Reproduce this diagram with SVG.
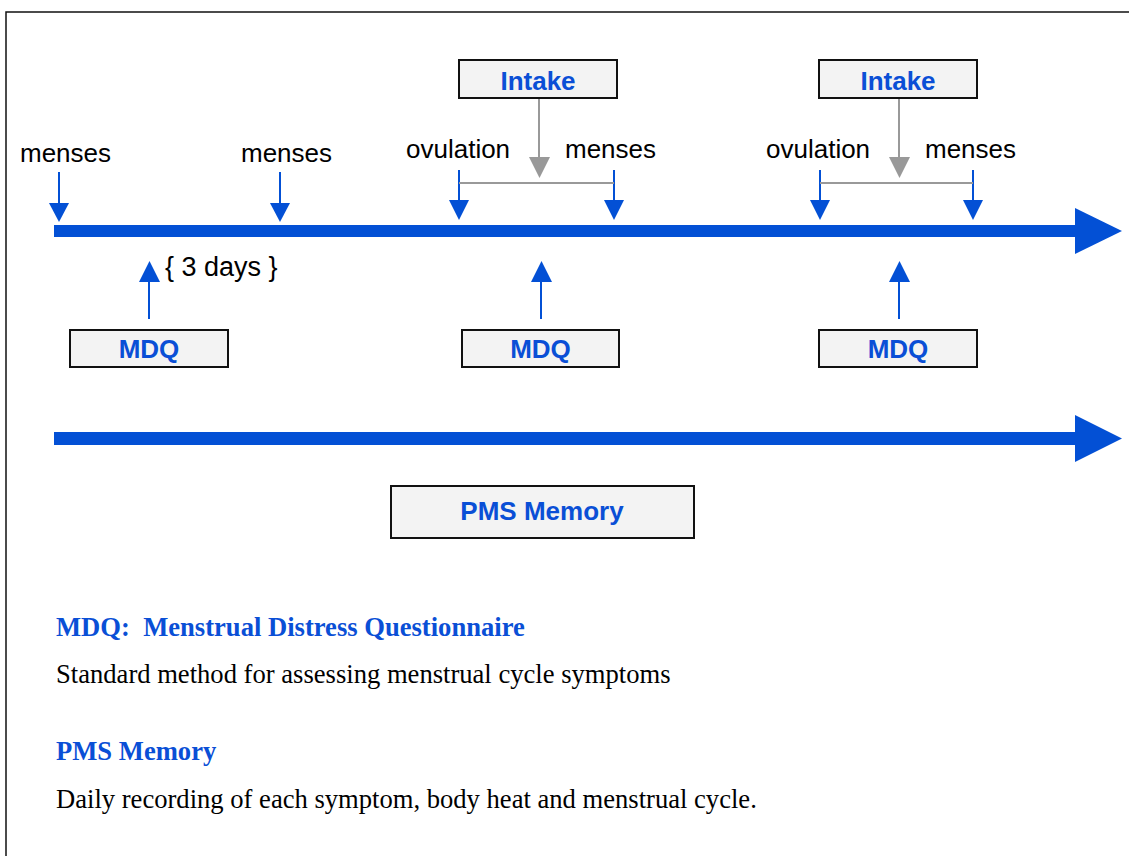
<svg xmlns="http://www.w3.org/2000/svg" width="1129" height="856" viewBox="0 0 1129 856">
<style>
.lbl{font-family:"Liberation Sans",Arial,sans-serif;font-size:26px;fill:#000}
.box{fill:#f3f3f3;stroke:#111;stroke-width:2}
.bt{font-family:"Liberation Sans",Arial,sans-serif;font-size:26px;font-weight:bold;fill:#0a4fd6;text-anchor:middle}
.blue{stroke:#0350d5;stroke-width:2}
.gray{stroke:#999;stroke-width:2}
.hd{font-family:"Liberation Serif","Times New Roman",serif;font-size:26.6px;font-weight:bold;fill:#0a4fd6}
.body{font-family:"Liberation Serif","Times New Roman",serif;font-size:26.6px;fill:#000}
</style>
<rect x="6" y="12" width="1140" height="860" fill="#fff" stroke="#111" stroke-width="1.5"/>

<g id="connectors">
  <rect x="54" y="225" width="1024" height="12" fill="#0350d5"/>
  <polygon points="1075,208 1122,231 1075,254" fill="#0350d5"/>
  <rect x="54" y="432" width="1024" height="13" fill="#0350d5"/>
  <polygon points="1075,415 1122,438.5 1075,462" fill="#0350d5"/>

  <g>
    <line class="blue" x1="59" y1="172" x2="59" y2="204"/>
    <polygon points="49,203 69,203 59,222" fill="#0350d5"/>
    <line class="blue" x1="280" y1="172" x2="280" y2="204"/>
    <polygon points="270,203 290,203 280,222" fill="#0350d5"/>
    <line class="blue" x1="459" y1="170" x2="459" y2="201"/>
    <polygon points="449,200 469,200 459,220" fill="#0350d5"/>
    <line class="blue" x1="614" y1="170" x2="614" y2="201"/>
    <polygon points="604,200 624,200 614,220" fill="#0350d5"/>
    <line class="blue" x1="820" y1="170" x2="820" y2="201"/>
    <polygon points="810,200 830,200 820,220" fill="#0350d5"/>
    <line class="blue" x1="973" y1="170" x2="973" y2="201"/>
    <polygon points="963,200 983,200 973,220" fill="#0350d5"/>
  </g>
  <g>
    <line class="gray" x1="459" y1="183" x2="614" y2="183"/>
    <line class="gray" x1="539" y1="98" x2="539" y2="158"/>
    <polygon points="529,157 550,157 539.5,178" fill="#999"/>
    <line class="gray" x1="820" y1="183" x2="973" y2="183"/>
    <line class="gray" x1="899" y1="98" x2="899" y2="158"/>
    <polygon points="889,157 910,157 899.5,178" fill="#999"/>
  </g>
  <g>
    <line class="blue" x1="149" y1="319" x2="149" y2="280"/>
    <polygon points="139,282 160,282 149.5,261" fill="#0350d5"/>
    <line class="blue" x1="541" y1="319" x2="541" y2="280"/>
    <polygon points="531,282 552,282 541.5,261" fill="#0350d5"/>
    <line class="blue" x1="899" y1="319" x2="899" y2="280"/>
    <polygon points="889,282 910,282 899.5,261" fill="#0350d5"/>
  </g>
</g>

<g id="labels">
  <text class="lbl" x="20" y="162">menses</text>
  <text class="lbl" x="241" y="162">menses</text>
  <text class="lbl" x="406" y="158">ovulation</text>
  <text class="lbl" x="565" y="158">menses</text>
  <text class="lbl" x="766" y="158">ovulation</text>
  <text class="lbl" x="925" y="158">menses</text>
  <text class="lbl" x="165" y="276" style="font-size:27px">{ 3 days }</text>
</g>

<g id="intake1"><rect class="box" x="459" y="60" width="158" height="38"/><text class="bt" x="538" y="90">Intake</text></g>
<g id="intake2"><rect class="box" x="819" y="60" width="158" height="38"/><text class="bt" x="898" y="90">Intake</text></g>
<g id="mdq1"><rect class="box" x="70" y="330" width="158" height="37"/><text class="bt" x="149" y="358">MDQ</text></g>
<g id="mdq2"><rect class="box" x="462" y="330" width="157" height="37"/><text class="bt" x="540.5" y="358">MDQ</text></g>
<g id="mdq3"><rect class="box" x="819" y="330" width="158" height="37"/><text class="bt" x="898" y="358">MDQ</text></g>
<g id="pms"><rect class="box" x="391" y="486" width="303" height="52"/><text class="bt" x="542" y="520">PMS Memory</text></g>

<g id="legend">
  <text class="hd" x="56" y="636" xml:space="preserve">MDQ:  Menstrual Distress Questionnaire</text>
  <text class="body" x="56" y="683">Standard method for assessing menstrual cycle symptoms</text>
  <text class="hd" x="56" y="760">PMS Memory</text>
  <text class="body" x="56" y="808">Daily recording of each symptom, body heat and menstrual cycle.</text>
</g>
</svg>
